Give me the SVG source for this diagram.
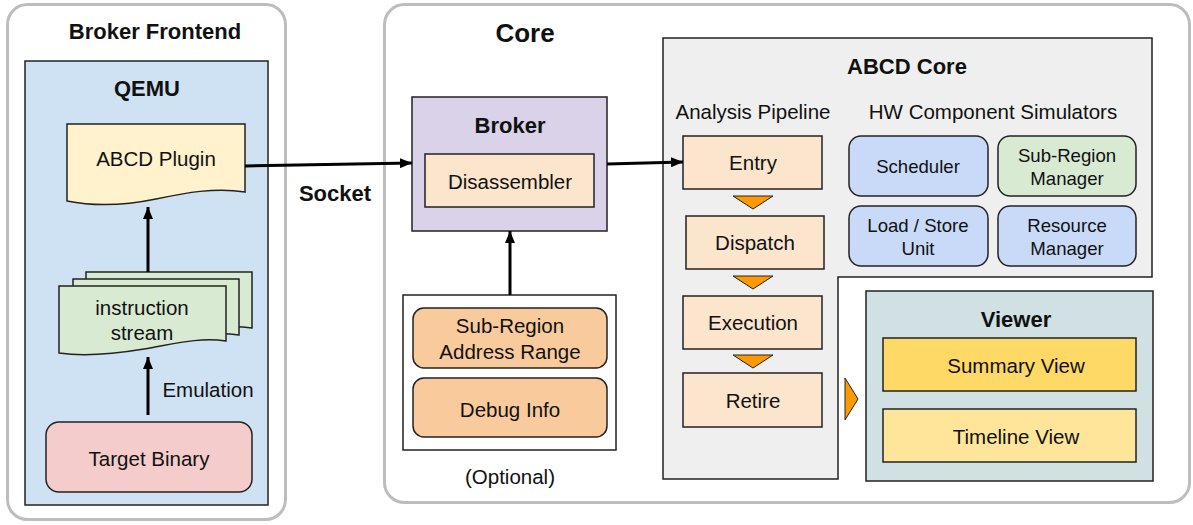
<svg xmlns="http://www.w3.org/2000/svg" width="1193" height="525" viewBox="0 0 1193 525">
  <defs>
    <marker id="arrow" viewBox="0 0 12 10" refX="12" refY="5" markerWidth="12" markerHeight="10" markerUnits="userSpaceOnUse" orient="auto">
      <path d="M0,0 L12,5 L0,10 Z" fill="#000"/>
    </marker>
    <style>
      text { font-family: "Liberation Sans", Arial, sans-serif; fill: #111; text-anchor: middle; dominant-baseline: central; }
      .t { font-size: 20.5px; }
      .s { font-size: 18.6px; }
      .b { font-size: 22px; font-weight: bold; }
      .container { fill: #fff; stroke: #bdbdbd; stroke-width: 3; }
      .box { stroke: #222; stroke-width: 1.5; }
      .tri { fill: #ff9900; stroke: #222; stroke-width: 1; }
      .edge { fill: none; stroke: #000; stroke-width: 3; marker-end: url(#arrow); }
    </style>
  </defs>

  <!-- Broker Frontend container -->
  <g id="broker-frontend">
    <rect class="container" x="7.5" y="4.5" width="278" height="515" rx="20"/>
    <text class="b" x="155" y="31">Broker Frontend</text>
  </g>

  <!-- QEMU -->
  <g id="qemu">
    <rect class="box" x="25" y="61" width="243" height="444" fill="#cfe2f3"/>
    <text class="b" x="147" y="88">QEMU</text>
  </g>

  <g id="abcd-plugin">
    <path class="box" fill="#fff2cc" d="M67,124 H245 V192 C215,187 185,193 156,199 C127,205 97,207 67,201 Z"/>
    <text class="t" x="156" y="158">ABCD Plugin</text>
  </g>

  <g id="instruction-stream">
    <path class="box" fill="#d9ead3" d="M86,272 H252 V328 C225,324 200,330 170,334 C140,338 112,341 86,338 Z"/>
    <path class="box" fill="#d9ead3" d="M73,279 H239 V335 C212,331 187,337 157,341 C127,345 99,348 73,345 Z"/>
    <path class="box" fill="#d9ead3" d="M59,286 H226 V341 C199,337 174,344 144,349 C114,354 86,357 59,353 Z"/>
    <text class="t" x="142" y="307">instruction</text>
    <text class="t" x="142" y="332">stream</text>
  </g>

  <g id="target-binary">
    <rect class="box" x="46" y="422" width="206" height="70" rx="13" fill="#f4cccc"/>
    <text class="t" x="149" y="458">Target Binary</text>
  </g>

  <!-- Core container -->
  <g id="core">
    <rect class="container" x="384.5" y="4.5" width="805" height="498" rx="20"/>
    <text x="525" y="33" style="font-size:26px;font-weight:bold">Core</text>
  </g>

  <g id="broker">
    <rect class="box" x="412" y="97" width="195" height="134" fill="#d9d2e9"/>
    <text class="b" x="510" y="125">Broker</text>
  </g>

  <g id="disassembler">
    <rect class="box" x="425" y="154" width="169" height="53" fill="#fce5cd"/>
    <text class="t" x="510" y="181">Disassembler</text>
  </g>

  <g id="optional-inputs">
    <rect class="box" x="403" y="295" width="213" height="155" fill="#fff"/>
    <text class="t" x="510" y="476">(Optional)</text>
  </g>

  <g id="sub-region-address-range">
    <rect class="box" x="413" y="308" width="194" height="60" rx="11" fill="#f9cb9c"/>
    <text class="t" x="510" y="325">Sub-Region</text>
    <text class="t" x="510" y="351">Address Range</text>
  </g>

  <g id="debug-info">
    <rect class="box" x="413" y="378" width="194" height="59" rx="11" fill="#f9cb9c"/>
    <text class="t" x="510" y="409">Debug Info</text>
  </g>

  <!-- ABCD Core (stepped panel) -->
  <g id="abcd-core">
    <path class="box" fill="#efefef" d="M663,38 H1152 V277 H838 V479 H663 Z"/>
    <text class="b" x="907" y="66">ABCD Core</text>
    <text class="t" x="753" y="111">Analysis Pipeline</text>
    <text class="t" x="993" y="111">HW Component Simulators</text>
  </g>

  <g id="entry">
    <rect class="box" x="683" y="136" width="139" height="53" fill="#fce5cd"/>
    <text class="t" x="753" y="162">Entry</text>
  </g>
  <g id="dispatch">
    <rect class="box" x="686" y="216" width="138" height="53" fill="#fce5cd"/>
    <text class="t" x="755" y="242">Dispatch</text>
  </g>
  <g id="execution">
    <rect class="box" x="683" y="296" width="139" height="53" fill="#fce5cd"/>
    <text class="t" x="753" y="322">Execution</text>
  </g>
  <g id="retire">
    <rect class="box" x="683" y="373" width="139" height="54" fill="#fce5cd"/>
    <text class="t" x="753" y="400">Retire</text>
  </g>

  <g id="scheduler">
    <rect class="box" x="849" y="136" width="139" height="60" rx="12" fill="#c9daf8"/>
    <text class="s" x="918" y="166">Scheduler</text>
  </g>
  <g id="sub-region-manager">
    <rect class="box" x="998" y="136" width="138" height="60" rx="12" fill="#d9ead3"/>
    <text class="s" x="1067" y="155">Sub-Region</text>
    <text class="s" x="1067" y="178">Manager</text>
  </g>
  <g id="load-store-unit">
    <rect class="box" x="849" y="206" width="139" height="60" rx="12" fill="#c9daf8"/>
    <text class="s" x="918" y="225">Load / Store</text>
    <text class="s" x="918" y="248">Unit</text>
  </g>
  <g id="resource-manager">
    <rect class="box" x="998" y="206" width="138" height="60" rx="12" fill="#c9daf8"/>
    <text class="s" x="1067" y="225">Resource</text>
    <text class="s" x="1067" y="248">Manager</text>
  </g>

  <g id="viewer">
    <rect class="box" x="866" y="291" width="287" height="190" fill="#d0e0e3"/>
    <text class="b" x="1016" y="319">Viewer</text>
  </g>
  <g id="summary-view">
    <rect class="box" x="883" y="338" width="253" height="53" fill="#ffd966"/>
    <text class="t" x="1016" y="365">Summary View</text>
  </g>
  <g id="timeline-view">
    <rect class="box" x="883" y="409" width="253" height="53" fill="#ffe599"/>
    <text class="t" x="1016" y="436">Timeline View</text>
  </g>

  <!-- Connectors -->
  <g id="connectors">
    <line class="edge" x1="148" y1="415" x2="148" y2="357"/>
    <text class="t" x="208" y="389">Emulation</text>
    <line class="edge" x1="148" y1="272" x2="148" y2="207"/>
    <line class="edge" x1="245" y1="166" x2="412" y2="163"/>
    <text class="b" x="335" y="193">Socket</text>
    <line class="edge" x1="510" y1="295" x2="510" y2="231"/>
    <line class="edge" x1="607" y1="164" x2="683" y2="162"/>
    <!-- pipeline flow -->
    <path class="tri" d="M733,196 H773 L753,209 Z"/>
    <path class="tri" d="M733,276 H773 L753,289 Z"/>
    <path class="tri" d="M733,355 H773 L753,368 Z"/>
    <path class="tri" d="M845,378 L858,399 L845,420 Z"/>
  </g>
</svg>
